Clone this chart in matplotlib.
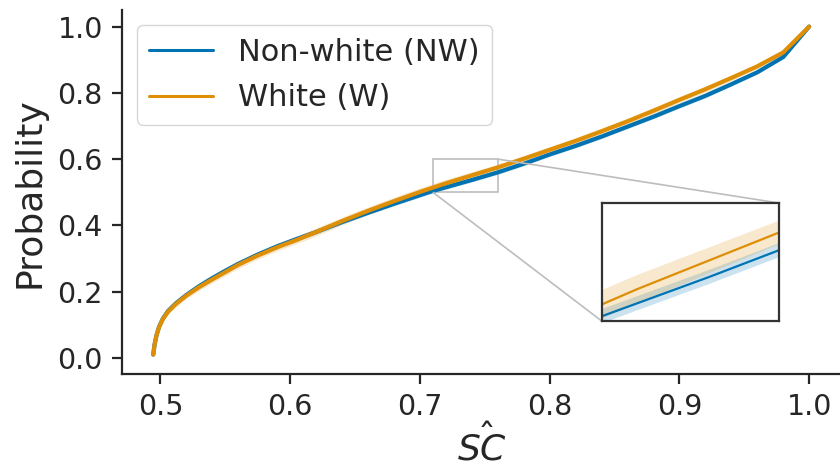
import matplotlib
matplotlib.use("Agg")
import matplotlib.pyplot as plt
import numpy as np
from mpl_toolkits.axes_grid1.inset_locator import mark_inset

# Score grid and cumulative probability per group
sc_score = [0.4945, 0.4955, 0.497, 0.499, 0.502, 0.506, 0.512, 0.520, 0.530,
            0.540, 0.550, 0.560, 0.575, 0.590, 0.605, 0.620, 0.640, 0.660,
            0.680, 0.700, 0.710, 0.720, 0.740, 0.760, 0.780, 0.800, 0.820,
            0.840, 0.860, 0.880, 0.900, 0.920, 0.940, 0.960, 0.980, 1.000]

prob_nonwhite = [0.010, 0.040, 0.068, 0.094, 0.119, 0.142, 0.165, 0.190, 0.217,
                 0.241, 0.263, 0.284, 0.312, 0.337, 0.359, 0.380, 0.410, 0.438,
                 0.465, 0.491, 0.504, 0.515, 0.537, 0.560, 0.586, 0.614, 0.640,
                 0.668, 0.698, 0.728, 0.760, 0.791, 0.826, 0.862, 0.908, 1.000]

prob_white = [0.010, 0.040, 0.068, 0.093, 0.118, 0.140, 0.163, 0.188, 0.214,
              0.237, 0.259, 0.281, 0.309, 0.334, 0.356, 0.380, 0.413, 0.444,
              0.473, 0.501, 0.514, 0.527, 0.551, 0.575, 0.601, 0.628, 0.655,
              0.684, 0.714, 0.746, 0.779, 0.811, 0.845, 0.880, 0.922, 1.000]

# Half-width of the confidence band
ci_nonwhite = [0.000, 0.002, 0.003, 0.004, 0.004, 0.005, 0.005, 0.005, 0.005,
               0.006, 0.006, 0.006, 0.006, 0.006, 0.006, 0.006, 0.006, 0.006,
               0.006, 0.006, 0.006, 0.006, 0.006, 0.006, 0.006, 0.006, 0.006,
               0.006, 0.006, 0.006, 0.006, 0.006, 0.006, 0.005, 0.004, 0.000]

ci_white = [0.000, 0.003, 0.005, 0.006, 0.007, 0.008, 0.009, 0.009, 0.010,
            0.010, 0.011, 0.011, 0.011, 0.011, 0.011, 0.012, 0.012, 0.012,
            0.012, 0.012, 0.012, 0.012, 0.011, 0.010, 0.010, 0.010, 0.010,
            0.010, 0.010, 0.010, 0.009, 0.009, 0.008, 0.007, 0.005, 0.000]

group_labels = ["Non-white (NW)", "White (W)"]
group_colors = ["#0173B2", "#DE8F05"]

zoom_x = (0.71, 0.76)
zoom_y = (0.50, 0.60)

TEXT = "#262626"
plt.rcParams.update({
    "font.family": "DejaVu Sans",
    "text.color": TEXT,
    "axes.labelcolor": TEXT,
    "xtick.color": TEXT,
    "ytick.color": TEXT,
    "axes.edgecolor": TEXT,
    "mathtext.fontset": "dejavusans",
})

x = np.array(sc_score)
series = [np.array(prob_nonwhite), np.array(prob_white)]
bands = [np.array(ci_nonwhite), np.array(ci_white)]

fig = plt.figure(figsize=(8.4, 4.68), dpi=100)
ax = fig.add_axes([0.1449, 0.1998, 0.857, 0.7788])

for y, ci, lab, col in zip(series, bands, group_labels, group_colors):
    ax.fill_between(x, y - ci, y + ci, color=col, alpha=0.2, lw=0)
    ax.plot(x, y, color=col, lw=3, label=lab, solid_capstyle="round",
            solid_joinstyle="round")

ax.set_xlim(0.4702, 1.025)
ax.set_ylim(-0.05, 1.05)
ax.set_xticks([0.5, 0.6, 0.7, 0.8, 0.9, 1.0])
ax.set_yticks([0.0, 0.2, 0.4, 0.6, 0.8, 1.0])
ax.tick_params(labelsize=20.5, length=7.5, width=1.6, pad=6)
for s in ("top", "right"):
    ax.spines[s].set_visible(False)
for s in ("left", "bottom"):
    ax.spines[s].set_linewidth(1.6)

ax.set_xlabel(r"$\hat{SC}$", fontsize=26, labelpad=2)
ax.set_ylabel("Probability", fontsize=26, labelpad=8)

leg = ax.legend(loc="upper left", fontsize=22, handlelength=2.1,
                labelspacing=0.55, frameon=True, fancybox=True,
                framealpha=0.8, edgecolor="#cccccc")
for h in leg.get_lines():
    h.set_linewidth(2.2)

# Inset with zoomed region
axins = fig.add_axes([0.7163, 0.3141, 0.2111, 0.2521])
for y, ci, col in zip(series, bands, group_colors):
    axins.fill_between(x, y - ci, y + ci, color=col, alpha=0.2, lw=0)
    axins.plot(x, y, color=col, lw=1.6)
axins.set_xlim(*zoom_x)
axins.set_ylim(*zoom_y)
axins.set_xticks([])
axins.set_yticks([])
for s in axins.spines.values():
    s.set_linewidth(1.6)
    s.set_edgecolor("#333333")

mark_inset(ax, axins, loc1=1, loc2=3, fc="none", ec="#bdbdbd", lw=1.2)

fig.savefig("out.png", dpi=100)
